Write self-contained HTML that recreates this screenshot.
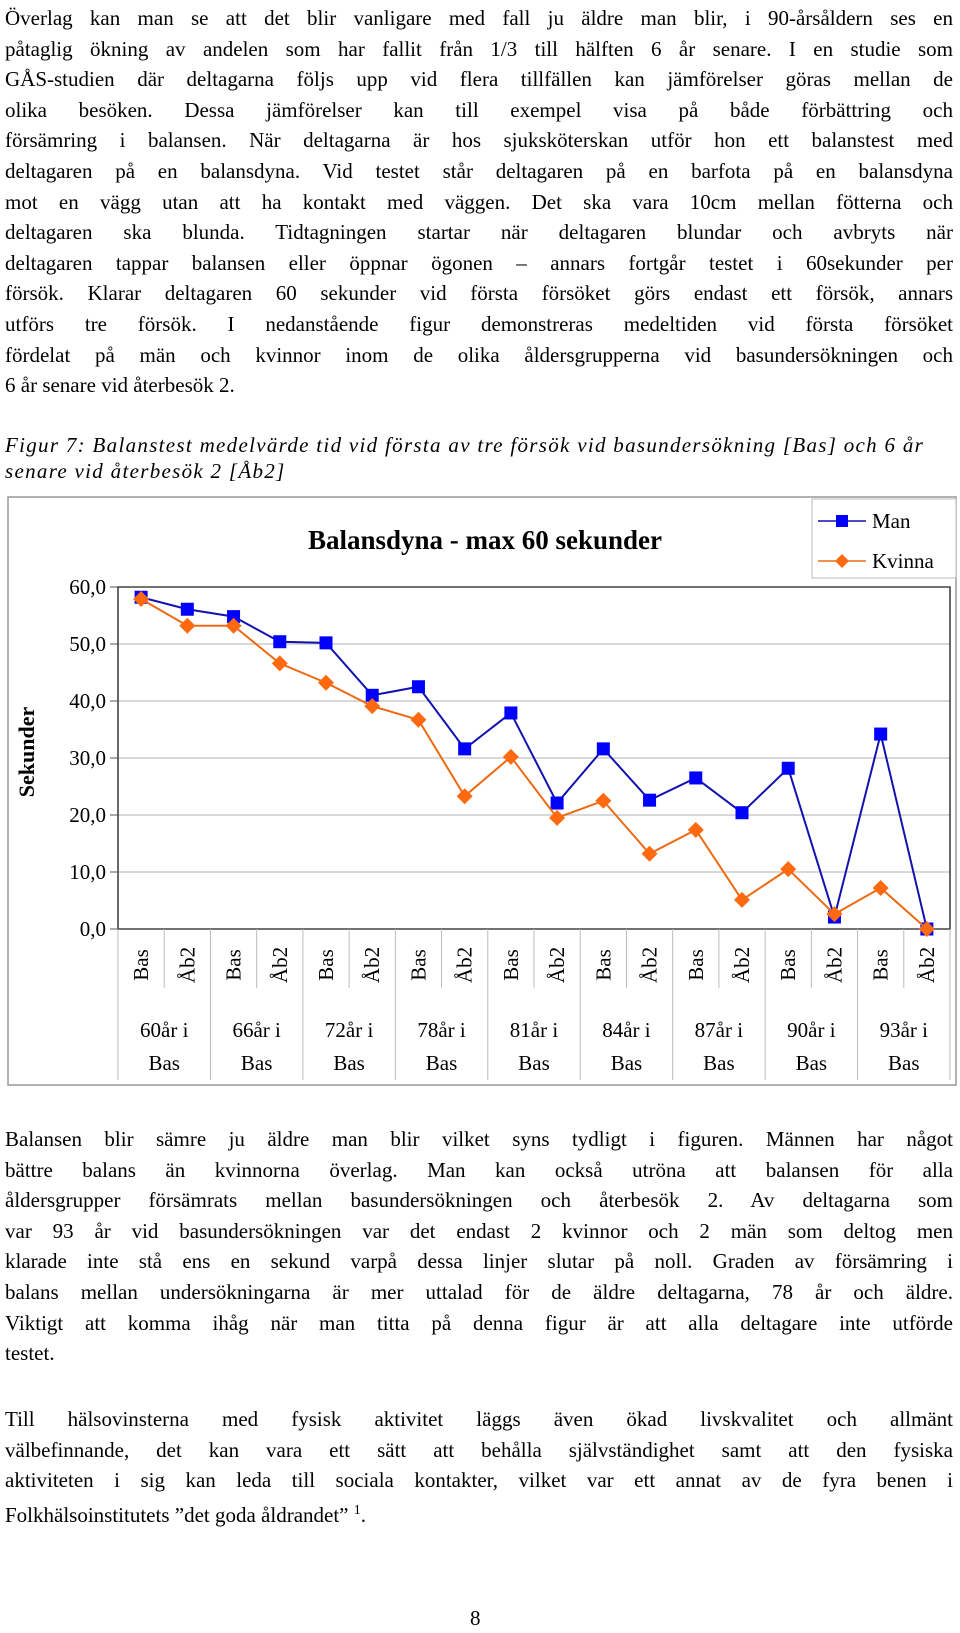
<!DOCTYPE html>
<html><head><meta charset="utf-8"><style>
html,body{margin:0;padding:0;background:#fff;}
body{width:960px;height:1633px;position:relative;overflow:hidden;font-family:"Liberation Serif",serif;color:#000;}
.p{position:absolute;left:5px;width:948px;font-size:21px;line-height:30.6px;}
.p div{text-align:justify;text-align-last:justify;white-space:nowrap;}
.p div.l{text-align-last:left;}
.cap{position:absolute;left:5px;top:432px;font-size:21px;line-height:26px;font-style:italic;letter-spacing:1.3px;white-space:nowrap;}
svg{position:absolute;left:0;top:0;}
</style></head><body>
<div class="p" style="top:3px">
<div>Överlag kan man se att det blir vanligare med fall ju äldre man blir, i 90-årsåldern ses en</div>
<div>påtaglig ökning av andelen som har fallit från 1/3 till hälften 6 år senare. I en studie som</div>
<div>GÅS-studien där deltagarna följs upp vid flera tillfällen kan jämförelser göras mellan de</div>
<div>olika besöken. Dessa jämförelser kan till exempel visa på både förbättring och</div>
<div>försämring i balansen. När deltagarna är hos sjuksköterskan utför hon ett balanstest med</div>
<div>deltagaren på en balansdyna. Vid testet står deltagaren på en barfota på en balansdyna</div>
<div>mot en vägg utan att ha kontakt med väggen. Det ska vara 10cm mellan fötterna och</div>
<div>deltagaren ska blunda. Tidtagningen startar när deltagaren blundar och avbryts när</div>
<div>deltagaren tappar balansen eller öppnar ögonen – annars fortgår testet i 60sekunder per</div>
<div>försök. Klarar deltagaren 60 sekunder vid första försöket görs endast ett försök, annars</div>
<div>utförs tre försök. I nedanstående figur demonstreras medeltiden vid första försöket</div>
<div>fördelat på män och kvinnor inom de olika åldersgrupperna vid basundersökningen och</div>
<div class="l">6 år senare vid återbesök 2.</div>
</div>
<div class="cap">Figur 7: Balanstest medelvärde tid vid första av tre försök vid basundersökning [Bas] och 6 år<br>senare vid återbesök 2 [Åb2]</div>

<svg width="960" height="1633" font-family="Liberation Serif, serif">
<rect x="8" y="497" width="948" height="588" fill="#fff" stroke="#999" stroke-width="1.5"/>
<text x="485" y="549" text-anchor="middle" font-size="27" font-weight="bold">Balansdyna - max 60 sekunder</text>
<text x="34" y="752" text-anchor="middle" font-size="22" font-weight="bold" transform="rotate(-90 34 752)">Sekunder</text>
<g id="grid"></g><g id="xcat"></g><g id="series"></g>
<g>
<rect x="812" y="499" width="144" height="79" fill="#fff" stroke="#bbb"/>
<line x1="818" y1="521" x2="866" y2="521" stroke="#1010b0" stroke-width="1.5"/>
<rect x="836" y="515" width="12" height="12" fill="#0000ff"/>
<text x="872" y="528" font-size="21">Man</text>
<line x1="818" y1="561" x2="866" y2="561" stroke="#ee6a12" stroke-width="1.5"/>
<polygon points="842,554 849,561 842,568 835,561" fill="#ff6a10"/>
<text x="872" y="568" font-size="21">Kvinna</text>
</g>
</svg>

<div class="p" style="top:1124px">
<div>Balansen blir sämre ju äldre man blir vilket syns tydligt i figuren. Männen har något</div>
<div>bättre balans än kvinnorna överlag. Man kan också utröna att balansen för alla</div>
<div>åldersgrupper försämrats mellan basundersökningen och återbesök 2. Av deltagarna som</div>
<div>var 93 år vid basundersökningen var det endast 2 kvinnor och 2 män som deltog men</div>
<div>klarade inte stå ens en sekund varpå dessa linjer slutar på noll. Graden av försämring i</div>
<div>balans mellan undersökningarna är mer uttalad för de äldre deltagarna, 78 år och äldre.</div>
<div>Viktigt att komma ihåg när man titta på denna figur är att alla deltagare inte utförde</div>
<div class="l">testet.</div>
</div>
<div class="p" style="top:1404px">
<div>Till hälsovinsterna med fysisk aktivitet läggs även ökad livskvalitet och allmänt</div>
<div>välbefinnande, det kan vara ett sätt att behålla självständighet samt att den fysiska</div>
<div>aktiviteten i sig kan leda till sociala kontakter, vilket var ett annat av de fyra benen i</div>
<div class="l">Folkhälsoinstitutets ”det goda åldrandet” <sup style="font-size:14px">1</sup>.</div>
</div>
<div style="position:absolute;left:470px;top:1606px;font-size:21px">8</div>

<script>
const categories=["Bas","Åb2","Bas","Åb2","Bas","Åb2","Bas","Åb2","Bas","Åb2","Bas","Åb2","Bas","Åb2","Bas","Åb2","Bas","Åb2"];
const groups=["60år i","66år i","72år i","78år i","81år i","84år i","87år i","90år i","93år i"];
const manValues=[58.2,56.1,54.8,50.4,50.2,41.0,42.5,31.6,37.9,22.1,31.6,22.6,26.5,20.4,28.2,2.1,34.2,0];
const kvinnaValues=[57.9,53.2,53.2,46.6,43.2,39.1,36.7,23.3,30.2,19.5,22.5,13.2,17.4,5.1,10.5,2.6,7.2,0];
const yTicks=[0,10,20,30,40,50,60];
const yTickLabels=["0,0","10,0","20,0","30,0","40,0","50,0","60,0"];
const NS="http://www.w3.org/2000/svg";
const L=118,R=950,T=587,B=929,YMAX=60;
const cw=(R-L)/categories.length;
function xs(i){return L+cw*(i+0.5);}
function ys(v){return B-(v/YMAX)*(B-T);}
function mk(tag,attrs,parent,txt){const e=document.createElementNS(NS,tag);for(const k in attrs)e.setAttribute(k,attrs[k]);if(txt!==undefined)e.textContent=txt;parent.appendChild(e);return e;}
const grid=document.getElementById('grid');
yTicks.forEach((t,i)=>{
  if(t>0&&t<YMAX){const g=mk('line',{x1:L,x2:R,y1:ys(t),y2:ys(t),stroke:'#c0c0c0','stroke-width':1.3},grid);
  
  }
  mk('line',{x1:L-8,x2:L,y1:ys(t),y2:ys(t),stroke:'#555'},grid);
  const lb=mk('text',{x:106,y:ys(t)+7,'text-anchor':'end','font-size':21},grid,yTickLabels[i]);
  
  
});
const ax=mk('path',{d:`M${L},${T}H${R}V${B}H${L}Z`,fill:'none',stroke:'#444','stroke-width':1.6},grid);


const xc=document.getElementById('xcat');
categories.forEach((c,i)=>{
  const cx=xs(i),cy=965;
  const t=mk('text',{x:cx+7,y:cy,'text-anchor':'middle','font-size':21,transform:`rotate(-90 ${cx+7} ${cy})`},xc,c);
  
  
  const xl=L+cw*(i+1);
  if(i<categories.length-1){
    mk('line',{x1:xl,x2:xl,y1:B,y2:(i%2==0)?988:1080,stroke:'#bbb'},xc);
  }
});
mk('line',{x1:L,x2:L,y1:B,y2:1080,stroke:'#bbb'},xc);
mk('line',{x1:R,x2:R,y1:B,y2:1080,stroke:'#bbb'},xc);
groups.forEach((g,i)=>{
  const cx=L+cw*(2*i+1);
  const t=mk('text',{x:cx,y:1037,'text-anchor':'middle','font-size':21},xc,g);
  
  
  const t2=mk('text',{x:cx,y:1070,'text-anchor':'middle','font-size':21},xc,'Bas');
  
  
});
const sg=document.getElementById('series');
function drawSeries(vals,lineCol,markCol,shape,name){
  const pl=mk('polyline',{points:vals.map((v,i)=>xs(i)+','+ys(v)).join(' '),fill:'none',stroke:lineCol,'stroke-width':2},sg);
  
  
  vals.forEach((v,i)=>{
    const x=xs(i),y=ys(v);let m;
    if(shape==='sq')m=mk('rect',{x:x-6.5,y:y-6.5,width:13,height:13,fill:markCol},sg);
    else m=mk('polygon',{points:`${x},${y-8} ${x+8},${y} ${x},${y+8} ${x-8},${y}`,fill:markCol},sg);
    
    
  });
}
drawSeries(manValues,'#1212b0','#0000ff','sq','man');
drawSeries(kvinnaValues,'#ee6a12','#ff6a10','di','kvinna');
</script>
</body></html>
